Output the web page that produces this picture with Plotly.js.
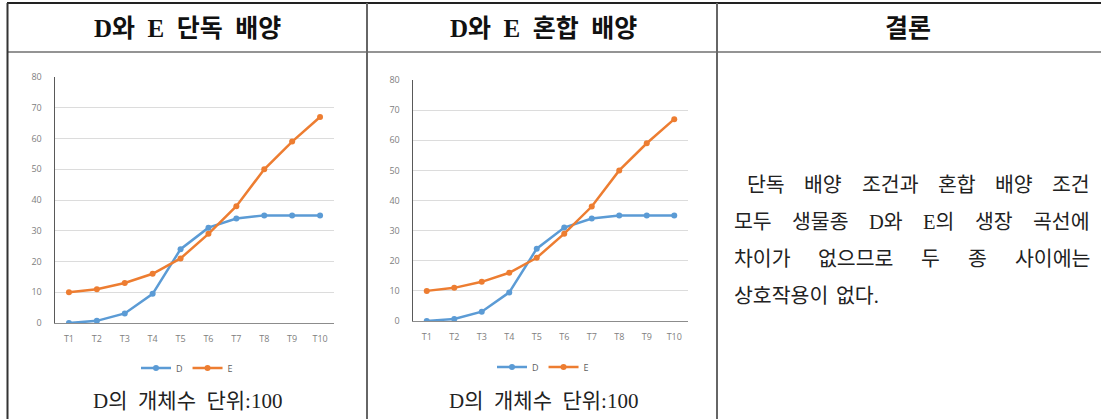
<!DOCTYPE html>
<html>
<head>
<meta charset="utf-8">
<script src="https://cdn.plot.ly/plotly-3.0.1.min.js"></script>
<style>
html,body{margin:0;padding:0;background:#fff;}
#chart{width:1101px;height:419px;}
</style>
</head>
<body>
<div id="chart"></div>
<script>
// ---- data ----
const categories = ['T1','T2','T3','T4','T5','T6','T7','T8','T9','T10'];
const dSolo  = [0, 0.7, 3.1, 9.5, 24, 31, 34, 35, 35, 35];
const eSolo  = [10, 11, 13, 16, 21, 29, 38, 50, 59, 67];
const dMixed = [0, 0.7, 3.1, 9.5, 24, 31, 34, 35, 35, 35];
const eMixed = [10, 11, 13, 16, 21, 29, 38, 50, 59, 67];
const seriesNames = ['D', 'E'];
const headers = [['D와','E','단독','배양'], ['D와','E','혼합','배양'], ['결론']];
const caption = ['D의','개체수','단위:100'];
const conclusionLines = [
  ['단독','배양','조건과','혼합','배양','조건'],
  ['모두','생물종','D와','E의','생장','곡선에'],
  ['차이가','없으므로','두','종','사이에는'],
  ['상호작용이','없다.']
];

// ---- layout helpers ----
const W = 1101, H = 419;
const px = x => x / W;
const py = y => 1 - y / H;
const BLUE = '#5B9BD5', ORANGE = '#ED7D31';
const KFONT = '"Liberation Serif", "Noto Sans CJK KR", serif';
const GAP = '\u00A0\u00A0';

function series(x, y, name, color, xa, ya, leg) {
  return {
    x: x, y: y, name: name, type: 'scatter', mode: 'lines+markers',
    xaxis: xa, yaxis: ya, legend: leg,
    line: {color: color, width: 2.5},
    marker: {color: color, size: 6, symbol: 'circle'}
  };
}

const data = [
  series(categories, dSolo, seriesNames[0], BLUE, 'x', 'y', 'legend'),
  series(categories, eSolo, seriesNames[1], ORANGE, 'x', 'y', 'legend'),
  series(categories, dMixed, seriesNames[0], BLUE, 'x2', 'y2', 'legend2'),
  series(categories, eMixed, seriesNames[1], ORANGE, 'x2', 'y2', 'legend2')
];

function xAxis(x0, x1, anchor) {
  return {
    domain: [px(x0), px(x1)], anchor: anchor, type: 'category',
    range: [-0.5, 9.5], showline: true, linecolor: '#8c8c8c', linewidth: 1,
    showgrid: false, zeroline: false, ticks: '',
    ticklabelstandoff: 7,
    tickfont: {family: 'Open Sans, sans-serif', size: 9, color: '#808080'},
    fixedrange: true
  };
}
function yAxis(yTop, yBottom, anchor) {
  return {
    domain: [py(yBottom), py(yTop)], anchor: anchor,
    range: [0, 80], dtick: 10, tick0: 0,
    showline: true, linecolor: '#595959', linewidth: 1.5,
    showgrid: true, gridcolor: '#dcdcdc', gridwidth: 1,
    zeroline: false, ticks: '',
    ticklabelstandoff: 10,
    tickfont: {family: 'Open Sans, sans-serif', size: 9, color: '#808080'},
    fixedrange: true
  };
}

const annotations = [];
// headers
const headerX = [187, 543, 908];
headers.forEach((words, i) => {
  annotations.push({
    text: '<b>' + words.join(GAP) + '</b>', x: px(headerX[i]), y: py(29),
    xref: 'paper', yref: 'paper', xanchor: 'center', yanchor: 'middle',
    showarrow: false, font: {family: KFONT, size: 25, color: '#111'}
  });
});
// captions
[187, 543].forEach(cx => {
  annotations.push({
    text: caption.join(GAP), x: px(cx), y: py(401), xref: 'paper', yref: 'paper',
    xanchor: 'center', yanchor: 'middle', showarrow: false,
    font: {family: KFONT, size: 21, color: '#222'}
  });
});

// conclusion paragraph: justified lines, word widths measured with canvas
const CSIZE = 20.5;
const ctx = document.createElement('canvas').getContext('2d');
ctx.font = CSIZE + 'px ' + KFONT;
const lineStart = [745, 732, 732, 732];
const lineEnd = 1088;
const lineY = [185, 222, 259, 296];
conclusionLines.forEach((words, li) => {
  const widths = words.map(w => ctx.measureText(w).width);
  const total = widths.reduce((a, b) => a + b, 0);
  const last = li === conclusionLines.length - 1;
  const gap = last ? 8 : (lineEnd - lineStart[li] - total) / (words.length - 1);
  let cx = lineStart[li];
  words.forEach((w, wi) => {
    annotations.push({
      text: w, x: px(cx), y: py(lineY[li]),
      xref: 'paper', yref: 'paper', xanchor: 'left', yanchor: 'middle',
      showarrow: false, font: {family: KFONT, size: CSIZE, color: '#222'}
    });
    cx += widths[wi] + gap;
  });
});

function line(x0, y0, x1, y1, color, width) {
  return {type: 'line', xref: 'paper', yref: 'paper',
          x0: px(x0), y0: py(y0), x1: px(x1), y1: py(y1),
          line: {color: color, width: width}};
}
const shapes = [
  line(7, 3, 1101, 3, '#222', 2),
  line(7, 52, 1101, 52, '#707070', 1.5),
  line(7.5, 3, 7.5, 419, '#333', 2),
  line(367, 3, 367, 419, '#666', 2),
  line(717, 3, 717, 419, '#666', 2)
];

const legendBase = {
  orientation: 'h', xanchor: 'center', yanchor: 'middle',
  font: {family: 'Open Sans, sans-serif', size: 9, color: '#606060'},
  bgcolor: 'rgba(0,0,0,0)', itemwidth: 30, tracegroupgap: 0
};

const layout = {
  width: W, height: H,
  margin: {l: 0, r: 0, t: 0, b: 0},
  paper_bgcolor: '#fff', plot_bgcolor: '#fff',
  xaxis: xAxis(55, 334, 'y'),
  yaxis: yAxis(77, 323, 'x'),
  xaxis2: xAxis(413, 688, 'y2'),
  yaxis2: yAxis(80, 321, 'x2'),
  legend: Object.assign({x: px(187), y: py(368)}, legendBase),
  legend2: Object.assign({x: px(543), y: py(367)}, legendBase),
  showlegend: true,
  annotations: annotations,
  shapes: shapes
};

Plotly.newPlot('chart', data, layout, {displayModeBar: false, staticPlot: true});
</script>
</body>
</html>
